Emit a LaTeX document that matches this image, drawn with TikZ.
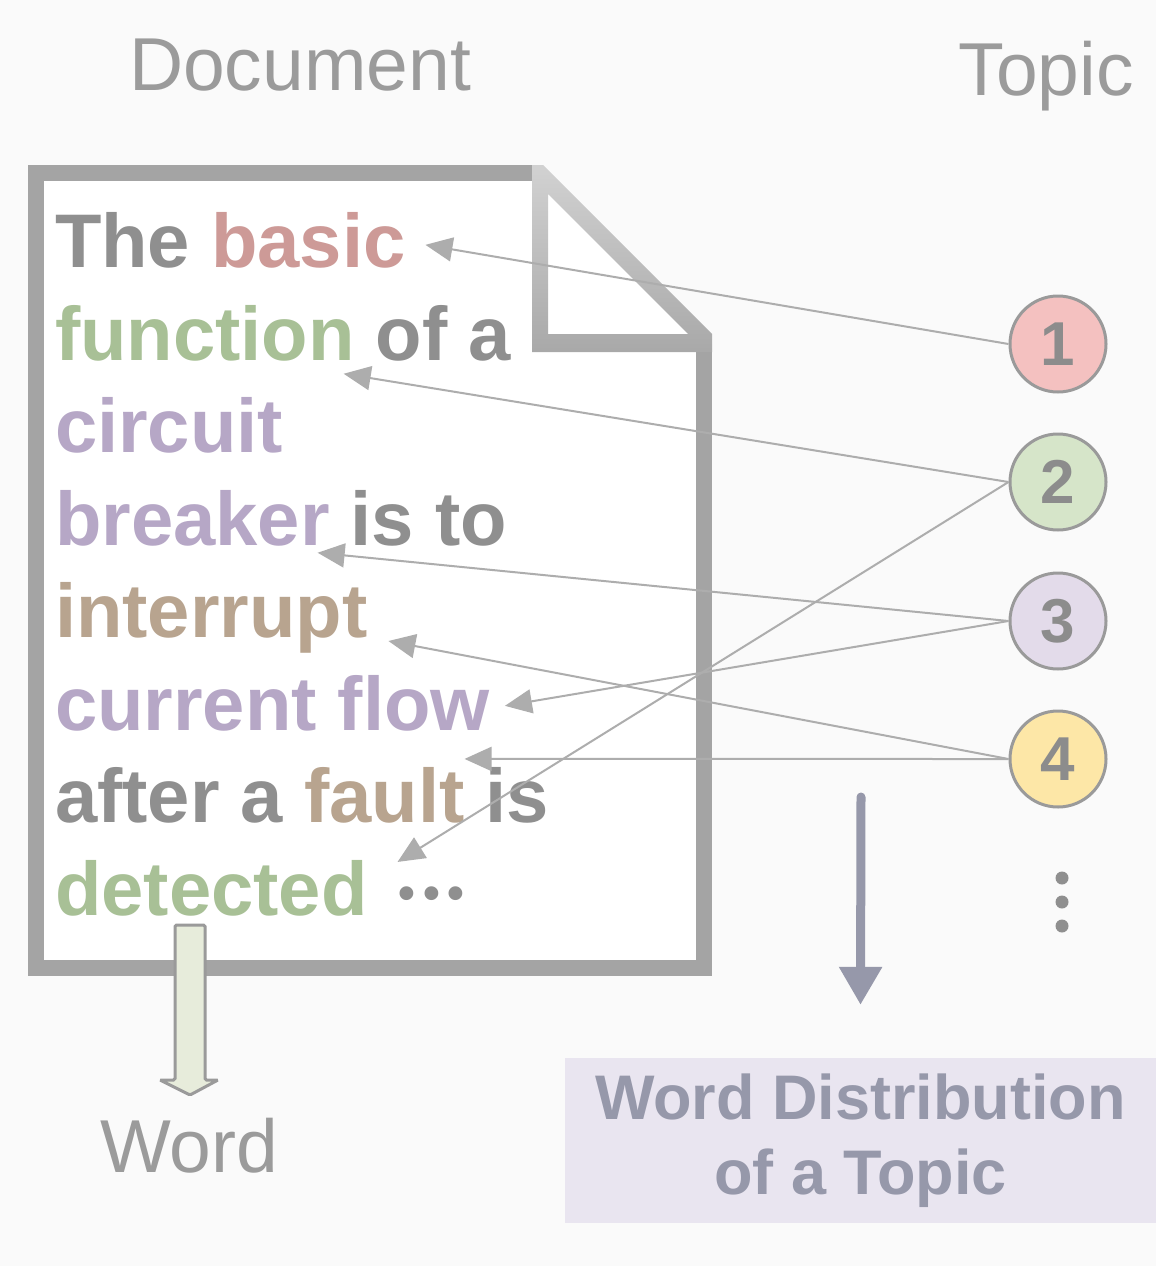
\documentclass[tikz,border=0pt]{standalone}
\usepackage{fontspec}
\setmainfont{Liberation Sans}
\usetikzlibrary{positioning,arrows.meta}

\definecolor{bggray}{HTML}{FAFAFA}
\definecolor{pagegray}{HTML}{A4A4A4}
\definecolor{plaingray}{HTML}{8F8F8F}
\definecolor{wred}{HTML}{CD9A97}
\definecolor{wgreen}{HTML}{A8C096}
\definecolor{wpurple}{HTML}{B6A7C6}
\definecolor{wtan}{HTML}{B8A48F}
\definecolor{linegray}{HTML}{ADADAD}
\definecolor{titlegray}{HTML}{9B9B9B}
\definecolor{numgray}{HTML}{8C8C8C}
\definecolor{circgray}{HTML}{9A9A9A}
\definecolor{tred}{HTML}{F4C1C0}
\definecolor{tgreen}{HTML}{D6E5C9}
\definecolor{tpurple}{HTML}{E3DBEA}
\definecolor{tyellow}{HTML}{FDE7A7}
\definecolor{distfill}{HTML}{E9E5F0}
\definecolor{distgray}{HTML}{9698AA}
\definecolor{arrowfill}{HTML}{E7ECDB}

\tikzstyle{word}=[inner sep=0pt, outer sep=0pt, font=\fontsize{76}{90}\selectfont\bfseries, text=plaingray]
\tikzstyle{title}=[inner sep=0pt, anchor=base, font=\fontsize{75}{75}\selectfont, text=titlegray]
\tikzstyle{topic}=[circle, draw=circgray, line width=3pt, minimum size=96pt, inner sep=0pt, font=\fontsize{62}{62}\selectfont\bfseries, text=numgray]
\tikzstyle{link}=[draw=linegray, line width=2pt, -{Triangle[length=27pt,width=24pt]}]
\tikzstyle{pageline}=[draw=pagegray, line width=16pt, line join=miter]
\tikzstyle{distbox}=[fill=distfill, minimum width=591pt, minimum height=165pt, inner sep=0pt, align=center, font=\fontsize{63}{75}\selectfont\bfseries, text=distgray]

\begin{document}
\begin{tikzpicture}[x=1pt, y=-1pt]
\useasboundingbox (0,0) rectangle (1156,1266);
\fill[bggray] (0,0) rectangle (1156,1266);

% headings
\node[title] (doc) at (300,90) {Document};
\node[title] (topic) at (1046,95) {Topic};
\node[title] (word) at (189,1172) {Word};

% the page with its folded corner
\fill[white] (36,173) -- (540,173) -- (704,338) -- (704,968) -- (36,968) -- cycle;
\draw[pageline] (532,173) -- (36,173) -- (36,968) -- (704,968) -- (704,350);
\shade[top color=pagegray!50, bottom color=pagegray!95, even odd rule]
  (532,165) -- (543,165) -- (712,334) -- (712,352) -- (532,352) -- cycle
  (548,194) -- (688,334) -- (548,334) -- cycle;

% text of the document
\node[word, anchor=base west] (the) at (55,267) {The};
\node[word, text=wred, base right=21pt of the] (basic) {basic};
\node[word, text=wgreen, anchor=base west] (function) at (55,360) {function};
\node[word, base right=21pt of function] (ofa) {of a};
\node[word, text=wpurple, anchor=base west] (circuit) at (55,452) {circuit};
\node[word, text=wpurple, anchor=base west] (breaker) at (55,545) {breaker};
\node[word, base right=21pt of breaker] (isto) {is to};
\node[word, text=wtan, anchor=base west] (interrupt) at (55,637) {interrupt};
\node[word, text=wpurple, anchor=base west] (flow) at (55,730) {current flow};
\node[word, anchor=base west] (aftera) at (55,822) {after a};
\node[word, text=wtan, base right=21pt of aftera] (fault) {fault};
\node[word, base right=21pt of fault] (is) {is};
\node[word, text=wgreen, anchor=base west] (detected) at (55,915) {detected};
\node[word, base right=31pt of detected] (etc) {\fontsize{48}{48}\selectfont\raisebox{6pt}{•\kern7.7pt•\kern7.7pt•}};

% topics
\node[topic, fill=tred] (t1) at (1058,344) {1};
\node[topic, fill=tgreen] (t2) at (1058,482) {2};
\node[topic, fill=tpurple] (t3) at (1058,621) {3};
\node[topic, fill=tyellow] (t4) at (1058,759) {4};
\foreach \y in {878,902,926}
  \fill[plaingray] (1062,\y) circle (6.5);

% words drawn from topics
\draw[link] (t1.west) -- ([xshift=20pt,yshift=-5pt]basic.east);
\draw[link] (t2.west) -- ([xshift=-11pt,yshift=-13pt]function.south east);
\draw[link] (t2.west) -- ([xshift=30pt,yshift=-2pt]detected.north east);
\draw[link] (t3.west) -- ([xshift=-12pt,yshift=-7pt]breaker.south east);
\draw[link] (t3.west) -- ([xshift=15pt,yshift=-3pt]flow.east);
\draw[link] (t4.west) -- ([xshift=21pt,yshift=-4pt]interrupt.base east);
\draw[link] (t4.west) -- ([xshift=0pt,yshift=8pt]fault.north east);

% word arrow
\draw[draw=circgray, fill=arrowfill, line width=3pt, rounded corners=1.5pt]
  (175,925) -- (205,925) -- (205,1080) -- (218,1080) -- (190,1095) -- (160,1080) -- (175,1080) -- cycle;

% word distribution
\node[distbox] (dist) at (860.5,1140.5) {Word Distribution\\of a Topic};
\coordinate (dtop) at (861,797);
\draw[draw=distgray, line width=9pt, line cap=round, -{Triangle[length=38pt,width=41pt]}] (dtop) -- ([yshift=53pt]dist.north);
\end{tikzpicture}
\end{document}
